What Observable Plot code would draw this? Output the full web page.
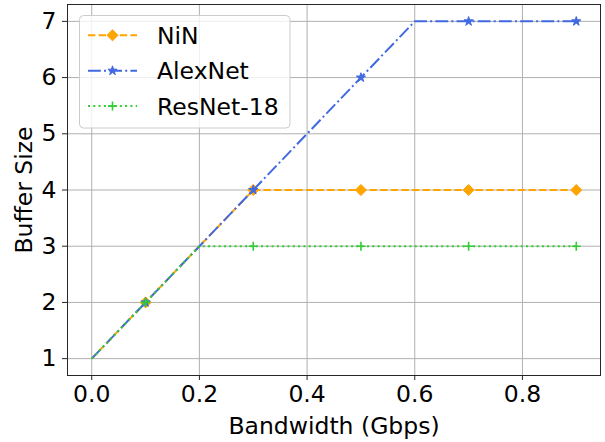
<!DOCTYPE html>
<html><head><meta charset="utf-8">
<script src="https://cdn.jsdelivr.net/npm/d3@7"></script>
<script src="https://cdn.jsdelivr.net/npm/@observablehq/plot@0.6"></script>
<style>
body{margin:0;background:#fff;}
#chart{position:relative;width:605px;height:442px;}
</style>
</head><body><div id="chart"></div>
<script>
// ---- data ----
const bandwidth = [0, 0.1, 0.2, 0.3, 0.4, 0.5, 0.6, 0.7, 0.8, 0.9];
const ninBuffer = [1, 2, 3, 4, 4, 4, 4, 4, 4, 4];
const alexnetBuffer = [1, 2, 3, 4, 5, 6, 7, 7, 7, 7];
const resnetBuffer = [1, 2, 3, 3, 3, 3, 3, 3, 3, 3];
const seriesNames = ["NiN", "AlexNet", "ResNet-18"];
const markerIndices = [1, 3, 5, 7, 9];
const xTicks = [0, 0.2, 0.4, 0.6, 0.8];
const yTicks = [1, 2, 3, 4, 5, 6, 7];

// ---- styles ----
const styles = {
  "NiN":       {color: "#FFA500", dash: "7.4,3.2", symbol: "diamond2", r: 5, fill: "#FFA500", stroke: "#FFA500", sw: 1},
  "AlexNet":   {color: "#4169E1", dash: "12.8,3.2,2,3.2", symbol: "star", r: 2.9, fill: "#4169E1", stroke: "#4169E1", sw: 1},
  "ResNet-18": {color: "#32CD32", dash: "2,3.3", symbol: "plus", r: 3, fill: "none", stroke: "#32CD32", sw: 1.6}
};
const valuesBySeries = {"NiN": ninBuffer, "AlexNet": alexnetBuffer, "ResNet-18": resnetBuffer};
const rows = seriesNames.flatMap(s => bandwidth.map((x, i) => ({series: s, x, y: valuesBySeries[s][i], i})));

const FONT = "DejaVu Sans";
const marks = [
  Plot.gridX(xTicks, {stroke: "#b0b0b0", strokeOpacity: 1, strokeWidth: 1}),
  Plot.gridY(yTicks, {stroke: "#b0b0b0", strokeOpacity: 1, strokeWidth: 1})
];
for (const s of seriesNames) {
  const st = styles[s];
  const d = rows.filter(r => r.series === s);
  marks.push(Plot.line(d, {x: "x", y: "y", stroke: st.color, strokeWidth: 2, strokeDasharray: st.dash, strokeLinecap: "butt", strokeLinejoin: "miter"}));
  marks.push(Plot.dot(d.filter(r => markerIndices.includes(r.i)), {x: "x", y: "y", symbol: () => st.symbol, r: st.r, fill: st.fill, stroke: st.stroke, strokeWidth: st.sw}));
}
marks.push(Plot.frame({stroke: "#262626", strokeWidth: 1}));
marks.push(Plot.axisX({ticks: xTicks, tickFormat: d3.format(".1f"), tickSize: 5, tickPadding: 5, stroke: "#262626", label: "Bandwidth (Gbps)", labelAnchor: "center", labelArrow: "none", labelOffset: 58, fontSize: 23.5}));
marks.push(Plot.axisY({ticks: yTicks, tickFormat: d3.format("d"), tickSize: 5, tickPadding: 6, stroke: "#262626", label: "Buffer Size", labelAnchor: "center", labelArrow: "none", labelOffset: 52, fontSize: 23.5}));

const chart = Plot.plot({
  width: 605, height: 442,
  marginLeft: 67, marginRight: 5, marginTop: 4, marginBottom: 67,
  style: {fontFamily: FONT, fontSize: "23.5px", color: "#000", background: "#fff"},
  x: {domain: [-0.045, 0.945]},
  y: {domain: [0.7, 7.3]},
  symbol: {type: "identity"},
  marks
});
document.getElementById("chart").appendChild(chart);

// ---- legend ----
const svg = d3.select(chart);
const lg = svg.append("g").attr("class", "legend").attr("text-anchor", "start");
lg.append("rect").attr("x", 79.5).attr("y", 15.5).attr("width", 210.5).attr("height", 112.5)
  .attr("rx", 4).attr("fill", "#fff").attr("fill-opacity", 0.8).attr("stroke", "#cccccc").attr("stroke-width", 1);
seriesNames.forEach((s, k) => {
  const st = styles[s];
  const cy = 35.3 + k * 35.4;
  lg.append("line").attr("x1", 88).attr("x2", 137).attr("y1", cy).attr("y2", cy)
    .attr("stroke", st.color).attr("stroke-width", 2).attr("stroke-dasharray", st.dash);
  const symMap = {diamond2: d3.symbolDiamond2, star: d3.symbolStar, plus: d3.symbolPlus};
  lg.append("path").attr("transform", `translate(112.5,${cy})`)
    .attr("d", d3.symbol(symMap[st.symbol], Math.PI * st.r * st.r)())
    .attr("fill", st.fill).attr("stroke", st.stroke).attr("stroke-width", st.sw);
  lg.append("text").attr("x", 157).attr("y", cy + 8.6).attr("text-anchor", "start")
    .attr("font-family", FONT).attr("font-size", 23.5).attr("fill", "#000").text(s);
});
</script>
</body></html>
